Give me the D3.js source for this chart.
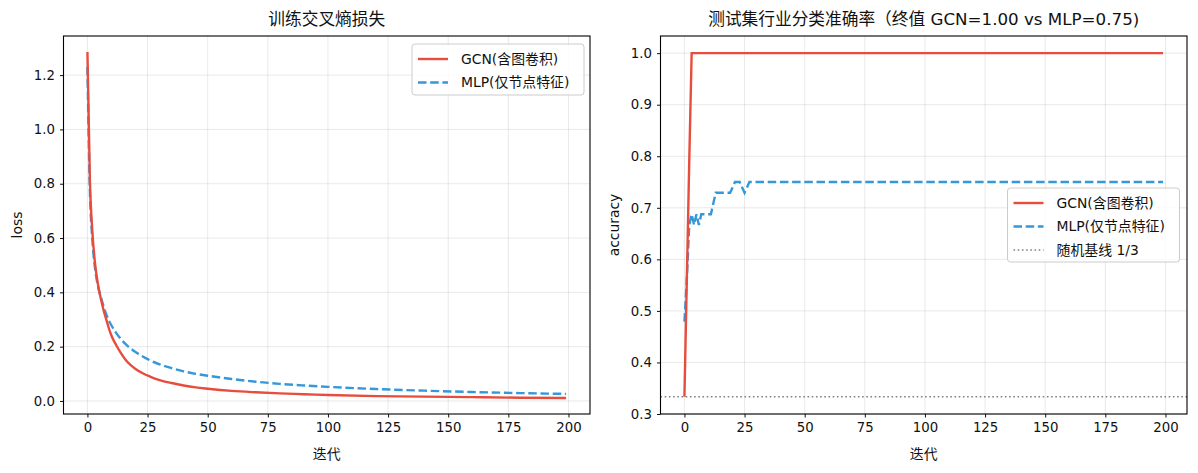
<!DOCTYPE html>
<html><head><meta charset="utf-8">
<script src="https://cdn.jsdelivr.net/npm/d3@7"></script>
<style>
body{margin:0;background:#fff;}
text{font-family:"DejaVu Sans","Noto Sans CJK SC",sans-serif;fill:#111;}
</style></head>
<body><svg id="c" width="1198" height="473"></svg>
<script>
// ---- data ----
const lossIter = [0,1,2,3,4,5,6,7,8,9,10,12,14,16,18,20,23,26,30,35,40,45,50,60,70,80,90,100,120,140,160,180,199];
const gcnLoss  = [1.285,0.82,0.63,0.52,0.45,0.40,0.36,0.325,0.295,0.265,0.24,0.205,0.175,0.15,0.132,0.118,0.102,0.09,0.077,0.066,0.057,0.05,0.045,0.037,0.032,0.028,0.025,0.022,0.018,0.016,0.014,0.012,0.011];
const mlpLoss  = [1.23,0.78,0.60,0.50,0.44,0.40,0.37,0.34,0.315,0.295,0.278,0.25,0.227,0.208,0.193,0.18,0.164,0.15,0.135,0.121,0.109,0.1,0.093,0.081,0.071,0.063,0.057,0.052,0.044,0.038,0.033,0.029,0.026];
const gcnAccIter = [0,1,2,3,199];
const gcnAcc     = [0.3333,0.5625,0.79,1.0,1.0];
const mlpAccIter = [0,1,2,3,4,5,6,7,8,9,10,11,12,13,14,15,16,17,18,19,20,21,22,23,24,25,26,27,199];
const mlpAcc     = [0.4792,0.5625,0.6667,0.6875,0.6667,0.6875,0.6667,0.6875,0.6875,0.6875,0.6875,0.6875,0.7083,0.7292,0.7292,0.7292,0.7292,0.7292,0.7292,0.7292,0.7396,0.75,0.75,0.75,0.7396,0.7292,0.7396,0.75,0.75];
const baseline = 1/3;
const xTicks = [0,25,50,75,100,125,150,175,200];
const lossTicks = [0.0,0.2,0.4,0.6,0.8,1.0,1.2];
const accTicks = [0.3,0.4,0.5,0.6,0.7,0.8,0.9,1.0];
const labels = {gcn:"GCN(含图卷积)", mlp:"MLP(仅节点特征)", base:"随机基线 1/3"};
const titles = ["训练交叉熵损失","测试集行业分类准确率（终值 GCN=1.00 vs MLP=0.75)"];

const RED="#e74c3c", BLUE="#3498db", GREY="#808080";
const LW=2.4, DASH="8.5,3.7";
const FS=13.9;
const svg = d3.select("#c");
svg.append("rect").attr("width",1198).attr("height",473).attr("fill","#fff");

function panel(o){
  const g = svg.append("g");
  const x = d3.scaleLinear().domain([-9.95,208.95]).range([o.left,o.right]);
  const y = d3.scaleLinear().domain(o.ydom).range([o.bottom,o.top]);
  // grid
  g.append("g").selectAll("line").data(xTicks).join("line")
    .attr("x1",d=>x(d)).attr("x2",d=>x(d)).attr("y1",o.top).attr("y2",o.bottom)
    .attr("stroke","#b0b0b0").attr("stroke-opacity",0.35).attr("stroke-width",0.8);
  g.append("g").selectAll("line").data(o.yticks).join("line")
    .attr("y1",d=>y(d)).attr("y2",d=>y(d)).attr("x1",o.left).attr("x2",o.right)
    .attr("stroke","#b0b0b0").attr("stroke-opacity",0.35).attr("stroke-width",0.8);
  // axes
  const xa = g.append("g").attr("transform",`translate(0,${o.bottom})`)
    .call(d3.axisBottom(x).tickValues(xTicks).tickSize(3.5).tickPadding(5).tickFormat(d3.format("d")));
  const ya = g.append("g").attr("transform",`translate(${o.left},0)`)
    .call(d3.axisLeft(y).tickValues(o.yticks).tickSize(3.5).tickPadding(5).tickFormat(d3.format(".1f")));
  [xa,ya].forEach(a=>{a.select(".domain").remove();a.selectAll("text").attr("font-size",13.3).attr("fill","#111");a.selectAll("line").attr("stroke","#111");});
  // clip
  const cid="clip"+o.id;
  svg.append("clipPath").attr("id",cid).append("rect").attr("x",o.left).attr("y",o.top).attr("width",o.right-o.left).attr("height",o.bottom-o.top);
  const plot = g.append("g").attr("clip-path",`url(#${cid})`);
  o.draw(plot,x,y);
  // frame
  g.append("rect").attr("x",o.left).attr("y",o.top).attr("width",o.right-o.left).attr("height",o.bottom-o.top)
    .attr("fill","none").attr("stroke","#000").attr("stroke-width",1.1);
  // title / labels
  g.append("text").attr("x",(o.left+o.right)/2).attr("y",o.top-11).attr("text-anchor","middle").attr("font-size",16.7).text(o.title);
  g.append("text").attr("x",(o.left+o.right)/2).attr("y",459).attr("text-anchor","middle").attr("font-size",FS).text("迭代");
  g.append("text").attr("transform",`translate(${o.left-42},${(o.top+o.bottom)/2}) rotate(-90)`).attr("text-anchor","middle").attr("font-size",FS).text(o.ylabel);
  // legend
  const L=o.legend;
  const lg=g.append("g");
  lg.append("rect").attr("x",L.x).attr("y",L.y).attr("width",L.w).attr("height",L.h).attr("rx",3)
    .attr("fill","#fff").attr("fill-opacity",0.8).attr("stroke","#cccccc").attr("stroke-width",1);
  L.items.forEach((it,i)=>{
    const cy=L.y+15+i*23.5;
    lg.append("line").attr("x1",L.x+6).attr("x2",L.x+36).attr("y1",cy).attr("y2",cy)
      .attr("stroke",it.c).attr("stroke-width",it.w).attr("stroke-dasharray",it.dash||null);
    lg.append("text").attr("x",L.x+49).attr("y",cy).attr("dy","0.35em").attr("font-size",FS).text(it.t);
  });
}

const lineGen=(x,y,curve)=>d3.line().x(d=>x(d[0])).y(d=>y(d[1])).curve(curve||d3.curveLinear);

panel({id:1,left:63.5,right:590,top:36,bottom:414,ydom:[-0.048,1.344],yticks:lossTicks,
  title:titles[0],ylabel:"loss",
  draw:(p,x,y)=>{
    p.append("path").datum(d3.zip(lossIter,mlpLoss)).attr("d",lineGen(x,y,d3.curveMonotoneX))
      .attr("fill","none").attr("stroke",BLUE).attr("stroke-width",LW).attr("stroke-dasharray",DASH);
    p.append("path").datum(d3.zip(lossIter,gcnLoss)).attr("d",lineGen(x,y,d3.curveMonotoneX))
      .attr("fill","none").attr("stroke",RED).attr("stroke-width",LW);
  },
  legend:{x:412,y:44,w:172,h:51,items:[{t:labels.gcn,c:RED,w:LW},{t:labels.mlp,c:BLUE,w:LW,dash:DASH}]}
});

panel({id:2,left:660.5,right:1187,top:36,bottom:414,ydom:[0.3,1.0333],yticks:accTicks,
  title:titles[1],ylabel:"accuracy",
  draw:(p,x,y)=>{
    p.append("line").attr("x1",x.range()[0]).attr("x2",x.range()[1]).attr("y1",y(baseline)).attr("y2",y(baseline))
      .attr("stroke",GREY).attr("stroke-width",1.6).attr("stroke-dasharray","1.6,2.6");
    p.append("path").datum(d3.zip(mlpAccIter,mlpAcc)).attr("d",lineGen(x,y))
      .attr("fill","none").attr("stroke",BLUE).attr("stroke-width",LW).attr("stroke-dasharray",DASH);
    p.append("path").datum(d3.zip(gcnAccIter,gcnAcc)).attr("d",lineGen(x,y))
      .attr("fill","none").attr("stroke",RED).attr("stroke-width",LW);
  },
  legend:{x:1007.5,y:188,w:172,h:74,items:[{t:labels.gcn,c:RED,w:LW},{t:labels.mlp,c:BLUE,w:LW,dash:DASH},{t:labels.base,c:GREY,w:1.6,dash:"1.6,2.6"}]}
});
</script></body></html>
